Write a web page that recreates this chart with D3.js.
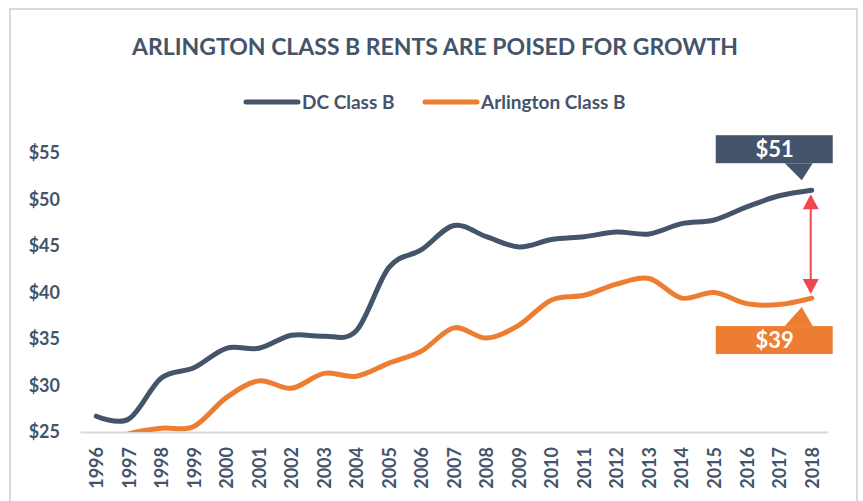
<!DOCTYPE html>
<html>
<head>
<meta charset="utf-8">
<script src="https://cdn.jsdelivr.net/npm/d3@7"></script>
<style>
  body { margin: 0; background: #fff; }
  text { font-family: Lato, "Open Sans", sans-serif; font-weight: bold; }
</style>
</head>
<body>
<svg id="chart" width="863" height="501"></svg>
<script>
// chart values
var years = [1996, 1997, 1998, 1999, 2000, 2001, 2002, 2003, 2004, 2005, 2006, 2007,
             2008, 2009, 2010, 2011, 2012, 2013, 2014, 2015, 2016, 2017, 2018];
var dcClassB = [26.7, 26.4, 30.8, 31.9, 34.0, 34.0, 35.4, 35.3, 35.9, 42.7, 44.6, 47.2,
                46.0, 44.9, 45.7, 46.0, 46.5, 46.3, 47.4, 47.8, 49.2, 50.4, 51.0];
var arlingtonClassB = [23.3, 24.8, 25.4, 25.6, 28.7, 30.5, 29.7, 31.3, 31.0, 32.4, 33.7, 36.2,
                       35.1, 36.5, 39.2, 39.7, 40.9, 41.5, 39.4, 40.0, 38.8, 38.7, 39.4];
var yTicks = [25, 30, 35, 40, 45, 50, 55];
var seriesNames = ['DC Class B', 'Arlington Class B'];
var colors = ['#44546a', '#ed7d31'];
var title = 'ARLINGTON CLASS B RENTS ARE POISED FOR GROWTH';

var svg = d3.select('#chart');
var textColor = '#44546a';

// outer frame
svg.append('rect')
  .attr('x', 10).attr('y', 9)
  .attr('width', 847).attr('height', 510)
  .attr('fill', 'none')
  .attr('stroke', '#d9d9d9')
  .attr('stroke-width', 2);

// title
svg.append('text')
  .attr('x', 435).attr('y', 55)
  .attr('text-anchor', 'middle')
  .attr('fill', textColor)
  .style('font-size', '23px')
  .text(title);

var x = d3.scalePoint()
  .domain(years)
  .range([80, 828])
  .padding(0.5);

var y = d3.scaleLinear()
  .domain([25, 55])
  .range([432, 153]);

// legend
var legendX = [244, 423];
seriesNames.forEach(function(name, i) {
  var g = svg.append('g').attr('transform', 'translate(' + legendX[i] + ',102)');
  g.append('line')
    .attr('x1', 2).attr('x2', 54)
    .attr('stroke', colors[i])
    .attr('stroke-width', 5)
    .attr('stroke-linecap', 'round');
  g.append('text')
    .attr('x', 58).attr('y', 7)
    .attr('fill', textColor)
    .style('font-size', '19px')
    .text(name);
});

// y axis labels
var yAxis = svg.append('g')
  .attr('transform', 'translate(60,0)')
  .call(d3.axisLeft(y).tickValues(yTicks).tickSize(0).tickPadding(0)
    .tickFormat(function(d) { return '$' + d; }));
yAxis.select('.domain').remove();
yAxis.selectAll('text')
  .attr('fill', textColor)
  .style('font-size', '18px')
  .style('font-family', 'Lato, sans-serif');

// x axis
var xAxis = svg.append('g')
  .attr('transform', 'translate(0,' + y(25) + ')')
  .call(d3.axisBottom(x).tickSize(0).tickPadding(0));
xAxis.select('.domain')
  .attr('stroke', '#d9d9d9')
  .attr('stroke-width', 2);
xAxis.selectAll('text')
  .attr('fill', textColor)
  .style('font-size', '18px')
  .style('font-family', 'Lato, sans-serif')
  .attr('text-anchor', 'end')
  .attr('dy', '0.35em')
  .attr('transform', 'translate(0,15) rotate(-90)');

// clip so values below $25 disappear like in the original
svg.append('clipPath').attr('id', 'plot-clip')
  .append('rect')
  .attr('x', 60).attr('y', 120)
  .attr('width', 790).attr('height', y(25) - 120);

var line = d3.line()
  .x(function(d, i) { return x(years[i]); })
  .y(function(d) { return y(d); })
  .curve(d3.curveCardinal.tension(0));

[dcClassB, arlingtonClassB].forEach(function(values, i) {
  svg.append('path')
    .datum(values)
    .attr('clip-path', 'url(#plot-clip)')
    .attr('d', line)
    .attr('fill', 'none')
    .attr('stroke', colors[i])
    .attr('stroke-width', 5)
    .attr('stroke-linecap', 'round')
    .attr('stroke-linejoin', 'round');
});

// callouts at the last point
var lastX = x(years[years.length - 1]);
var dcLast = dcClassB[dcClassB.length - 1];
var arLast = arlingtonClassB[arlingtonClassB.length - 1];

function callout(value, color, above) {
  var px = lastX, py = y(value);
  var tipY = above ? py - 10 : py + 9;
  var boxY = above ? tipY - 45 : tipY + 19;
  var baseY = above ? boxY + 28 : boxY;
  var tipX = px - 10;
  var g = svg.append('g');
  g.append('rect')
    .attr('x', px - 96).attr('y', boxY)
    .attr('width', 117).attr('height', 28)
    .attr('fill', color);
  g.append('path')
    .attr('d', 'M' + (px - 27) + ',' + baseY + 'L' + tipX + ',' + tipY + 'L' + (px + 1) + ',' + baseY + 'Z')
    .attr('fill', color);
  g.append('text')
    .attr('x', px - 37).attr('y', boxY + 22)
    .attr('text-anchor', 'middle')
    .attr('fill', '#fff')
    .style('font-size', '22px')
    .text('$' + Math.round(value));
}
callout(dcLast, colors[0], true);
callout(arLast, colors[1], false);

// double headed red arrow between the two end points
var arrowColor = '#f0474f';
var aTop = y(dcLast) + 4, aBot = y(arLast) - 4;
svg.append('line')
  .attr('x1', lastX - 1).attr('x2', lastX - 1)
  .attr('y1', aTop + 10).attr('y2', aBot - 10)
  .attr('stroke', arrowColor)
  .attr('stroke-width', 2);
svg.append('path')
  .attr('d', 'M' + (lastX - 1) + ',' + aTop + 'l8,15l-16,0Z')
  .attr('fill', arrowColor);
svg.append('path')
  .attr('d', 'M' + (lastX - 1) + ',' + aBot + 'l8,-15l-16,0Z')
  .attr('fill', arrowColor);
</script>
</body>
</html>
